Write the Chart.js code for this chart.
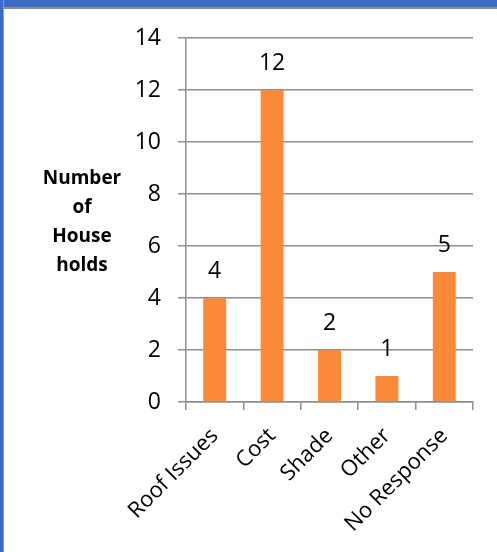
<!DOCTYPE html>
<html>
<head>
<meta charset="utf-8">
<script src="https://cdn.jsdelivr.net/npm/chart.js@4"></script>
<style>
  html, body { margin: 0; padding: 0; background: #ffffff; }
  #wrap { position: relative; width: 497px; height: 552px; overflow: hidden; }
  canvas { position: absolute; left: 0; top: 0; }
  #bTop { position: absolute; left: 0; top: 0; width: 497px; height: 7px; background: #3b6bc7; border-bottom: 2px solid #8d8d8d; }
  #bLeft { position: absolute; left: 0; top: 0; width: 3px; height: 552px; background: #3b6bc7; border-right: 1px solid #9a9a9a; }
</style>
</head>
<body>
<div id="wrap">
  <canvas id="c" width="497" height="552"></canvas>
  <div id="bTop"></div>
  <div id="bLeft"></div>
</div>
<script>
const categories = ["Roof Issues", "Cost", "Shade", "Other", "No Response"];
const households = [4, 12, 2, 1, 5];
const yTicks = [0, 2, 4, 6, 8, 10, 12, 14];
const yTitleLines = ["Number", "of", "House", "holds"];

const FONT = "'Open Sans', 'DejaVu Sans', sans-serif";
const GRID = '#8e8e8e';

const valueLabels = {
  id: 'valueLabels',
  afterDatasetsDraw(chart) {
    const ctx = chart.ctx;
    const meta = chart.getDatasetMeta(0);
    ctx.save();
    ctx.font = '23px ' + FONT;
    ctx.fillStyle = '#000';
    ctx.textAlign = 'center';
    ctx.textBaseline = 'middle';
    meta.data.forEach((bar, i) => {
      ctx.fillText(String(households[i]), bar.x, bar.y - 27);
    });
    ctx.restore();
  }
};

const yTitle = {
  id: 'yTitle',
  afterDraw(chart) {
    const ctx = chart.ctx;
    ctx.save();
    ctx.font = 'bold 19px ' + FONT;
    ctx.fillStyle = '#000';
    ctx.textAlign = 'center';
    ctx.textBaseline = 'middle';
    const mid = (chart.chartArea.top + chart.chartArea.bottom) / 2;
    const lh = 29;
    const start = mid + 2.5 - lh * (yTitleLines.length - 1) / 2;
    yTitleLines.forEach((t, i) => ctx.fillText(t, 82, start + i * lh));
    ctx.restore();
  }
};

new Chart(document.getElementById('c'), {
  type: 'bar',
  data: {
    labels: categories,
    datasets: [{
      data: households,
      backgroundColor: '#fb8a38',
      borderWidth: 0,
      categoryPercentage: 1.0,
      barPercentage: 0.4
    }]
  },
  options: {
    responsive: false,
    animation: false,
    devicePixelRatio: 1,
    layout: { padding: { top: 38, right: 24, left: 0, bottom: 0 } },
    plugins: { legend: { display: false }, tooltip: { enabled: false } },
    scales: {
      x: {
        grid: { offset: true, drawOnChartArea: false, drawTicks: true, tickLength: 8, color: GRID, lineWidth: 1.5 },
        border: { color: GRID, width: 1.5 },
        ticks: { color: '#000', font: { family: FONT, size: 22 }, maxRotation: 45, minRotation: 45, padding: 13 },
        afterFit(s) { s.height = 150; }
      },
      y: {
        min: 0, max: 14,
        afterBuildTicks(s) { s.ticks = yTicks.map(v => ({ value: v })); },
        grid: { color: GRID, lineWidth: 1.5, tickLength: 8 },
        border: { color: GRID, width: 1.5 },
        ticks: { color: '#000', font: { family: FONT, size: 23 }, padding: 17 },
        afterFit(s) { s.width = 186; }
      }
    }
  },
  plugins: [valueLabels, yTitle]
});
</script>
</body>
</html>
